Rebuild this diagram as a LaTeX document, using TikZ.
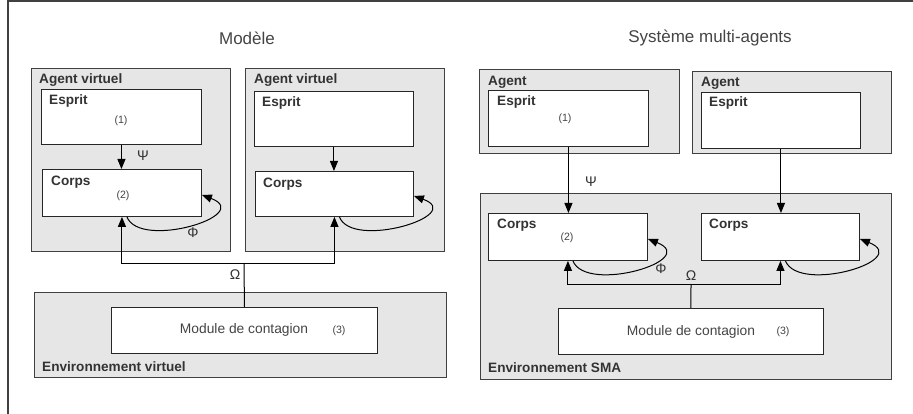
\documentclass[tikz,border=0pt]{standalone}
\usepackage{fontspec}
\setmainfont{Liberation Sans}
\usetikzlibrary{arrows.meta}
\definecolor{boxgray}{HTML}{E6E6E6}
\definecolor{edgegray}{HTML}{404040}
\definecolor{txtgray}{HTML}{333333}
\definecolor{titlegray}{HTML}{444444}
\tikzset{
  gbox/.style={draw=edgegray, line width=0.9pt, fill=boxgray, anchor=north west, inner sep=0pt},
  wbox/.style={draw=black!85, line width=0.9pt, fill=white, anchor=north west, inner sep=0pt},
  lbl/.style={anchor=base west, inner sep=0pt, text=txtgray, font=\fontsize{13.6}{16}\selectfont\bfseries},
  ttl/.style={inner sep=0pt, text=titlegray, font=\fontsize{17}{20}\selectfont},
  modtxt/.style={inner sep=0pt, text=titlegray, font=\fontsize{13.8}{16}\selectfont},
  num/.style={inner sep=0pt, text=titlegray, font=\fontsize{10.6}{12}\selectfont},
  grk/.style={inner sep=0pt, text=txtgray, font=\fontsize{14}{16}\selectfont},
  arr/.style={draw=black, line width=1pt, -{Triangle[length=10pt,width=8pt]}},
  conn/.style={draw=black, line width=1pt},
}
\begin{document}
\begin{tikzpicture}[x=1pt,y=-1pt]
\useasboundingbox (0,0) rectangle (913,414);
% outer frame
\draw[edgegray, line width=1.4pt] (8,414) -- (8,1) -- (913,1);

% titles
\node[ttl] (t1) at (247,38) {Modèle};
\node[ttl] (t2) at (710,38) {Système multi-agents};

% ---------------- left: Modele ----------------
\node[gbox, minimum width=199pt, minimum height=183pt] (av1) at (31,68) {};
\node[gbox, minimum width=199pt, minimum height=183pt] (av2) at (245,68) {};
\node[wbox, minimum width=160pt, minimum height=55pt] (e1) at (41,89) {};
\node[wbox, minimum width=159pt, minimum height=47pt] (c1) at (42,169) {};
\node[wbox, minimum width=159pt, minimum height=55pt] (e2) at (254,91) {};
\node[wbox, minimum width=158pt, minimum height=45pt] (c2) at (255,171) {};
\node[gbox, minimum width=412pt, minimum height=85pt] (env1) at (34,292) {};
\node[wbox, minimum width=266pt, minimum height=46pt] (m1) at (111,307) {};

\node[lbl] (lav1) at (39,84) {Agent virtuel};
\node[lbl] (lav2) at (254,84) {Agent virtuel};
\node[lbl] (le1) at (49,105) {Esprit};
\node[lbl] (le2) at (262,107) {Esprit};
\node[lbl] (lc1) at (51,186) {Corps};
\node[lbl] (lc2) at (263,188) {Corps};
\node[lbl] (lenv1) at (42,371) {Environnement virtuel};
\node[num] (n1) at (121,121) {(1)};
\node[num] (n2) at (123,196) {(2)};
\node[modtxt] (mt1) at (244,330) {Module de contagion};
\node[num] (n3) at (339,331) {(3)};

\draw[arr] (e1.south) -- (e1.south |- c1.north);
\draw[arr] (e2.south) -- (e2.south |- c2.north);
\node[grk] (psi1) at (143,156) {Ψ};

\coordinate (j1) at (244,263);
\draw[conn] (m1.north) -- (j1);
\draw[arr] (j1) -| (c1.south);
\draw[arr] (j1) -| (c2.south);
\node[grk] (om1) at (235,275) {Ω};

\draw[arr] ([xshift=5pt]c1.south) .. controls (140,250) and (255,215) .. ([yshift=-2pt]c1.east);
\draw[arr] ([xshift=5pt]c2.south) .. controls (352,250) and (467,215) .. ([yshift=-2pt]c2.east);
\node[grk] (phi1) at (193,233) {Φ};

% ---------------- right: SMA ----------------
\node[gbox, minimum width=200pt, minimum height=84pt] (ag1) at (479,69) {};
\node[gbox, minimum width=199pt, minimum height=82pt] (ag2) at (692,71) {};
\node[wbox, minimum width=160pt, minimum height=56pt] (se1) at (488,90) {};
\node[wbox, minimum width=159pt, minimum height=56pt] (se2) at (701,92) {};
\node[gbox, minimum width=411pt, minimum height=186pt] (envS) at (480,193) {};
\node[wbox, minimum width=159pt, minimum height=47pt] (sc1) at (488,213) {};
\node[wbox, minimum width=158pt, minimum height=47pt] (sc2) at (701,213) {};
\node[wbox, minimum width=265pt, minimum height=46pt] (sm) at (558,308) {};

\node[lbl] (lag1) at (488,86) {Agent};
\node[lbl] (lag2) at (701,87) {Agent};
\node[lbl] (lse1) at (497,106) {Esprit};
\node[lbl] (lse2) at (709,107) {Esprit};
\node[lbl] (lsc1) at (497,229) {Corps};
\node[lbl] (lsc2) at (709,229) {Corps};
\node[lbl] (lenvS) at (488,372) {Environnement SMA};
\node[num] (sn1) at (565,119) {(1)};
\node[num] (sn2) at (567,238) {(2)};
\node[modtxt] (mt2) at (691,332) {Module de contagion};
\node[num] (sn3) at (783,332) {(3)};

\draw[arr] (se1.south) -- (se1.south |- sc1.north);
\draw[arr] (se2.south) -- (se2.south |- sc2.north);
\node[grk] (psi2) at (591,182) {Ψ};

\coordinate (j2) at (691,284);
\draw[conn] (sm.north) -- (j2);
\draw[arr] (j2) -| (sc1.south);
\draw[arr] (j2) -| (sc2.south);
\node[grk] (om2) at (691,276) {Ω};

\draw[arr] ([xshift=5pt]sc1.south) .. controls (586,294) and (701,260) .. ([yshift=-2pt]sc1.east);
\draw[arr] ([xshift=5pt]sc2.south) .. controls (799,294) and (913,260) .. ([yshift=-2pt]sc2.east);
\node[grk] (phi2) at (661,269) {Φ};
\end{tikzpicture}
\end{document}
